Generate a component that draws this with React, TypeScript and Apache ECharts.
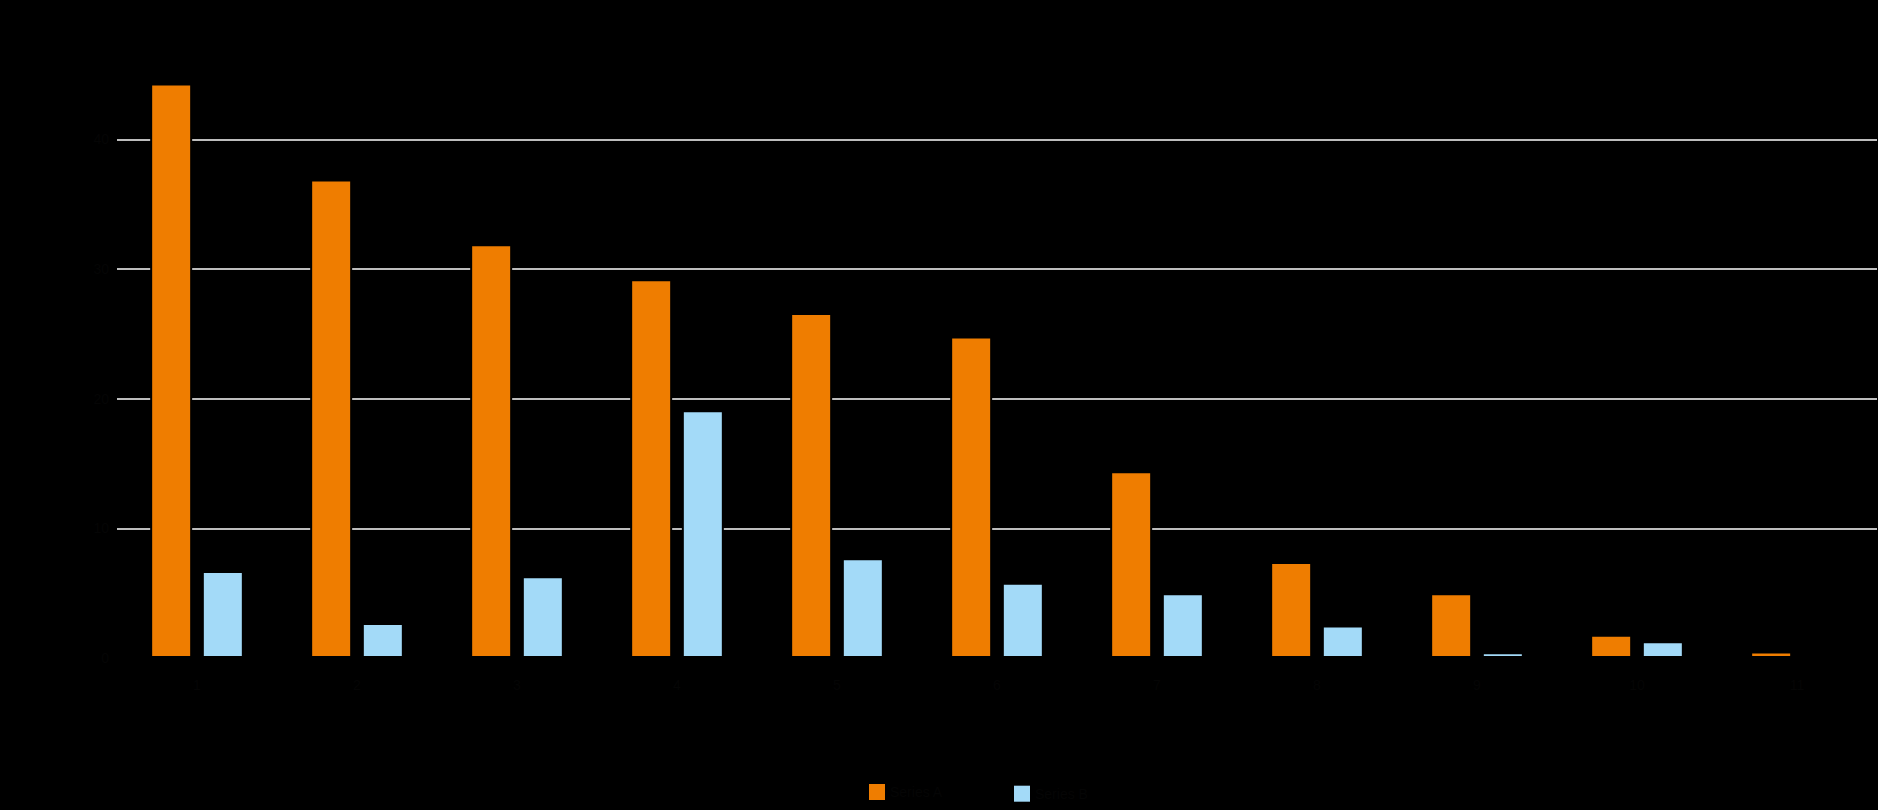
import React, { useEffect, useRef } from "react";
import * as echarts from "echarts";

const categories = ["1", "2", "3", "4", "5", "6", "7", "8", "9", "10", "11"];
const seriesAName = "Series A";
const seriesBName = "Series B";
const seriesA = [44.3, 36.9, 31.9, 29.2, 26.6, 24.8, 14.4, 7.4, 5.0, 1.8, 0.5];
const seriesB = [6.7, 2.7, 6.3, 19.1, 7.7, 5.8, 5.0, 2.5, 0.45, 1.3, 0];
const yTicks = { min: 0, max: 40, interval: 10 };

const ORANGE = "#EF7D00";
const BLUE = "#A3DAF8";
const GRID = "#BDBDBD";
const TXT = "#050505";

export default function App() {
  const ref = useRef<HTMLDivElement>(null);
  useEffect(() => {
    if (!ref.current) return;
    const chart = echarts.init(ref.current, null, { renderer: "svg" });
    const legendBase = {
      itemWidth: 16,
      itemHeight: 16,
      itemGap: 10,
      padding: 0,
      icon: "rect",
      itemStyle: { borderWidth: 0 },
      textStyle: { color: TXT, fontSize: 14, lineHeight: 16 },
    };
    chart.setOption({
      animation: false,
      backgroundColor: "#000000",
      textStyle: { fontFamily: "Liberation Sans, Arial, sans-serif", color: TXT },
      grid: { left: 117, right: 1, top: 139.3, bottom: 152, containLabel: false },
      legend: [
        { ...legendBase, data: [seriesAName], left: 869, top: 784 },
        { ...legendBase, data: [seriesBName], left: 1014, top: 785.7 },
      ],
      xAxis: {
        type: "category",
        data: categories,
        axisLine: { show: false },
        axisTick: { show: false },
        axisLabel: { color: TXT, fontSize: 14, margin: 20 },
        splitLine: { show: false },
      },
      yAxis: {
        type: "value",
        min: yTicks.min,
        max: yTicks.max,
        interval: yTicks.interval,
        axisLine: { show: false },
        axisTick: { show: false },
        axisLabel: { color: TXT, fontSize: 14 },
        splitLine: {
          show: true,
          lineStyle: { color: ["transparent", GRID, GRID, GRID, GRID], width: 2 },
        },
      },
      series: [
        {
          name: seriesAName,
          type: "bar",
          data: seriesA,
          barWidth: 42,
          barGap: "23%",
          clip: false,
          itemStyle: { color: ORANGE, borderColor: "#000000", borderWidth: 2 },
        },
        {
          name: seriesBName,
          type: "bar",
          data: seriesB,
          barWidth: 42,
          barGap: "23%",
          clip: false,
          itemStyle: { color: BLUE, borderColor: "#000000", borderWidth: 2 },
        },
      ],
    });
    return () => chart.dispose();
  }, []);
  return (
    <div
      ref={ref}
      style={{ position: "fixed", left: 0, top: 0, width: 1878, height: 810, background: "#000" }}
    />
  );
}
